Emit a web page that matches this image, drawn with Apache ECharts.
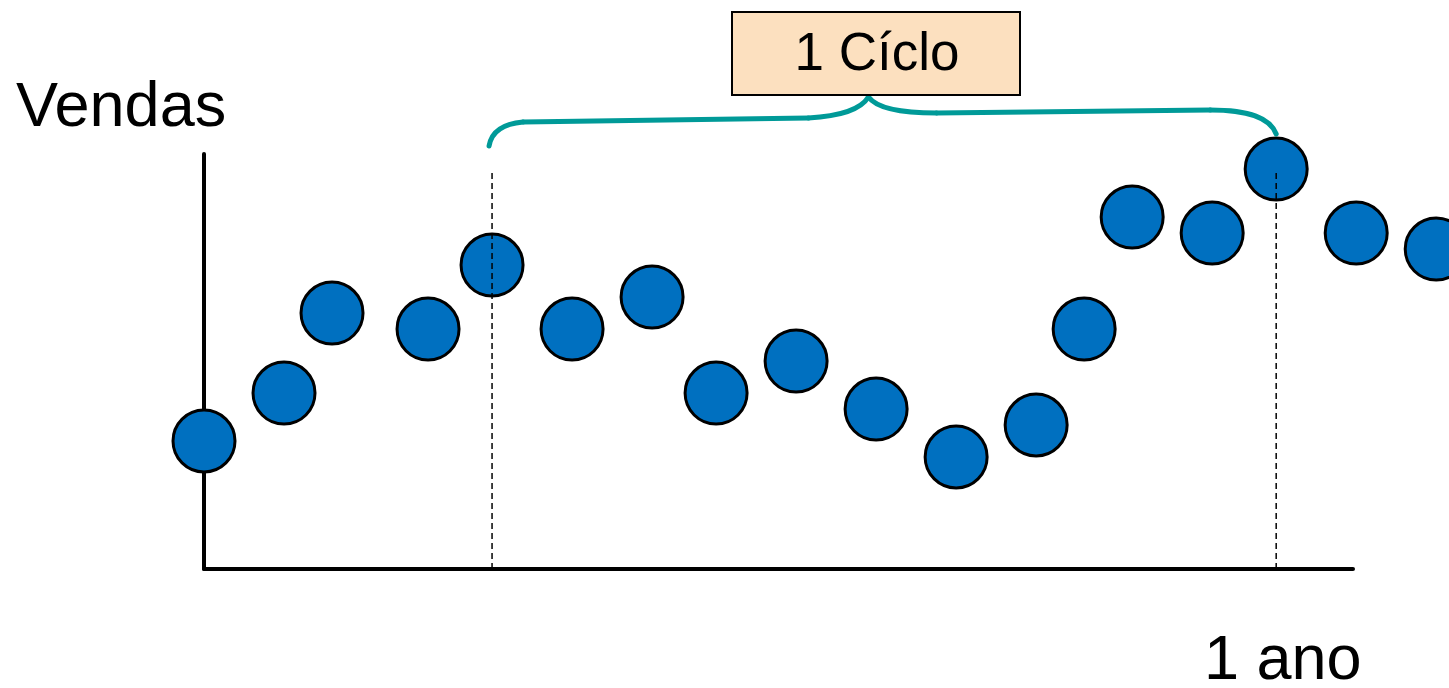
<!DOCTYPE html>
<html>
<head>
<meta charset="utf-8">
<title>Vendas — 1 Cíclo</title>
<script src="https://cdn.jsdelivr.net/npm/echarts@6/dist/echarts.min.js"></script>
<style>
  html, body { margin: 0; padding: 0; background: #ffffff; }
  #chart { width: 1449px; height: 688px; }
</style>
</head>
<body>
<div id="chart"></div>
<script>
// Time position of each observation (in periods) and the sales level at that moment
const periods = [0, 5, 8, 14, 18, 23, 28, 32, 37, 42, 47, 52, 55, 58, 63, 67, 72, 77];
const sales   = [8, 11, 16, 15, 19, 15, 17, 11, 13, 10, 7, 9, 15, 22, 21, 25, 21, 20];

// The cycle runs from one peak to the next
const cycleStart = 18;
const cycleEnd = 67;
const cycleLabel = '1 Cíclo';
const yAxisTitle = 'Vendas';
const xAxisTitle = '1 ano';

const FONT = '"Liberation Sans", Arial, sans-serif';
const DOT_BLUE = '#0070C0';
const BRACE_TEAL = '#009A98';

const points = periods.map((p, i) => [p, sales[i]]);
const guideTop = Math.max(sales[periods.indexOf(cycleStart)], sales[periods.indexOf(cycleEnd)]);

const chart = echarts.init(document.getElementById('chart'), null, { renderer: 'canvas' });

const axisCommon = {
  type: 'value',
  min: 0,
  axisLine: { show: true, onZero: false, lineStyle: { color: '#000', width: 4 } },
  axisTick: { show: false },
  axisLabel: { show: false },
  splitLine: { show: false }
};

chart.setOption({
  animation: false,
  backgroundColor: '#ffffff',
  grid: { left: 204, right: 96, top: 154, bottom: 119, containLabel: false },
  xAxis: Object.assign({}, axisCommon, { max: 71.8 }),
  yAxis: Object.assign({}, axisCommon, { max: 25.94 }),
  series: [
    {
      type: 'scatter',
      data: points,
      clip: false,
      symbol: 'circle',
      symbolSize: 62,
      itemStyle: { color: DOT_BLUE, borderColor: '#000', borderWidth: 3, opacity: 1 },
      z: 2
    },
    {
      type: 'line',
      data: [[cycleStart, 0], [cycleStart, guideTop]],
      symbol: 'none',
      lineStyle: { color: '#000', width: 1.5, type: [6, 4] },
      z: 3
    },
    {
      type: 'line',
      data: [[cycleEnd, 0], [cycleEnd, guideTop]],
      symbol: 'none',
      lineStyle: { color: '#000', width: 1.5, type: [6, 4] },
      z: 3
    }
  ]
});

// Brace spanning the cycle, anchored to the two guide lines
const pStart = chart.convertToPixel({ gridIndex: 0 }, [cycleStart, 0]);
const pEnd = chart.convertToPixel({ gridIndex: 0 }, [cycleEnd, 0]);
const L = pStart[0] - 3;
const R = pEnd[0];
const M = L + (R - L) * 0.482;
const tipY = 97;

const braceStyle = { fill: null, stroke: BRACE_TEAL, lineWidth: 5, lineCap: 'round', lineJoin: 'round' };

function curve(x1, y1, cx1, cy1, cx2, cy2, x2, y2) {
  return {
    type: 'bezierCurve',
    shape: { x1: x1, y1: y1, cpx1: cx1, cpy1: cy1, cpx2: cx2, cpy2: cy2, x2: x2, y2: y2 },
    style: braceStyle,
    z: 10
  };
}
function segment(x1, y1, x2, y2) {
  return {
    type: 'line',
    shape: { x1: x1, y1: y1, x2: x2, y2: y2 },
    style: braceStyle,
    z: 10
  };
}

const brace = [
  curve(L, 146, L + 2, 134, L + 11, 124, L + 34, 122),
  segment(L + 34, 122, M - 60, 118),
  curve(M - 60, 118, M - 28, 116, M - 8, 110, M, tipY),
  curve(M, tipY, M + 8, 108, M + 33, 113, M + 68, 113),
  segment(M + 68, 113, R - 66, 110),
  curve(R - 66, 110, R - 26, 110, R - 6, 118, R, 134)
];

chart.setOption({
  graphic: brace.concat([
    {
      type: 'rect',
      shape: { x: 732, y: 12, width: 288, height: 83 },
      style: { fill: '#FCE0BF', stroke: '#000', lineWidth: 2 },
      z: 11
    },
    {
      type: 'text',
      x: 877, y: 55,
      style: {
        text: cycleLabel, font: '53px ' + FONT, fill: '#000',
        align: 'center', verticalAlign: 'middle'
      },
      z: 12
    },
    {
      type: 'text',
      x: 16, y: 109,
      style: {
        text: yAxisTitle, font: '63px ' + FONT, fill: '#000',
        align: 'left', verticalAlign: 'middle'
      },
      z: 12
    },
    {
      type: 'text',
      x: 1204, y: 662,
      style: {
        text: xAxisTitle, font: '63px ' + FONT, fill: '#000',
        align: 'left', verticalAlign: 'middle'
      },
      z: 12
    }
  ])
});
</script>
</body>
</html>
